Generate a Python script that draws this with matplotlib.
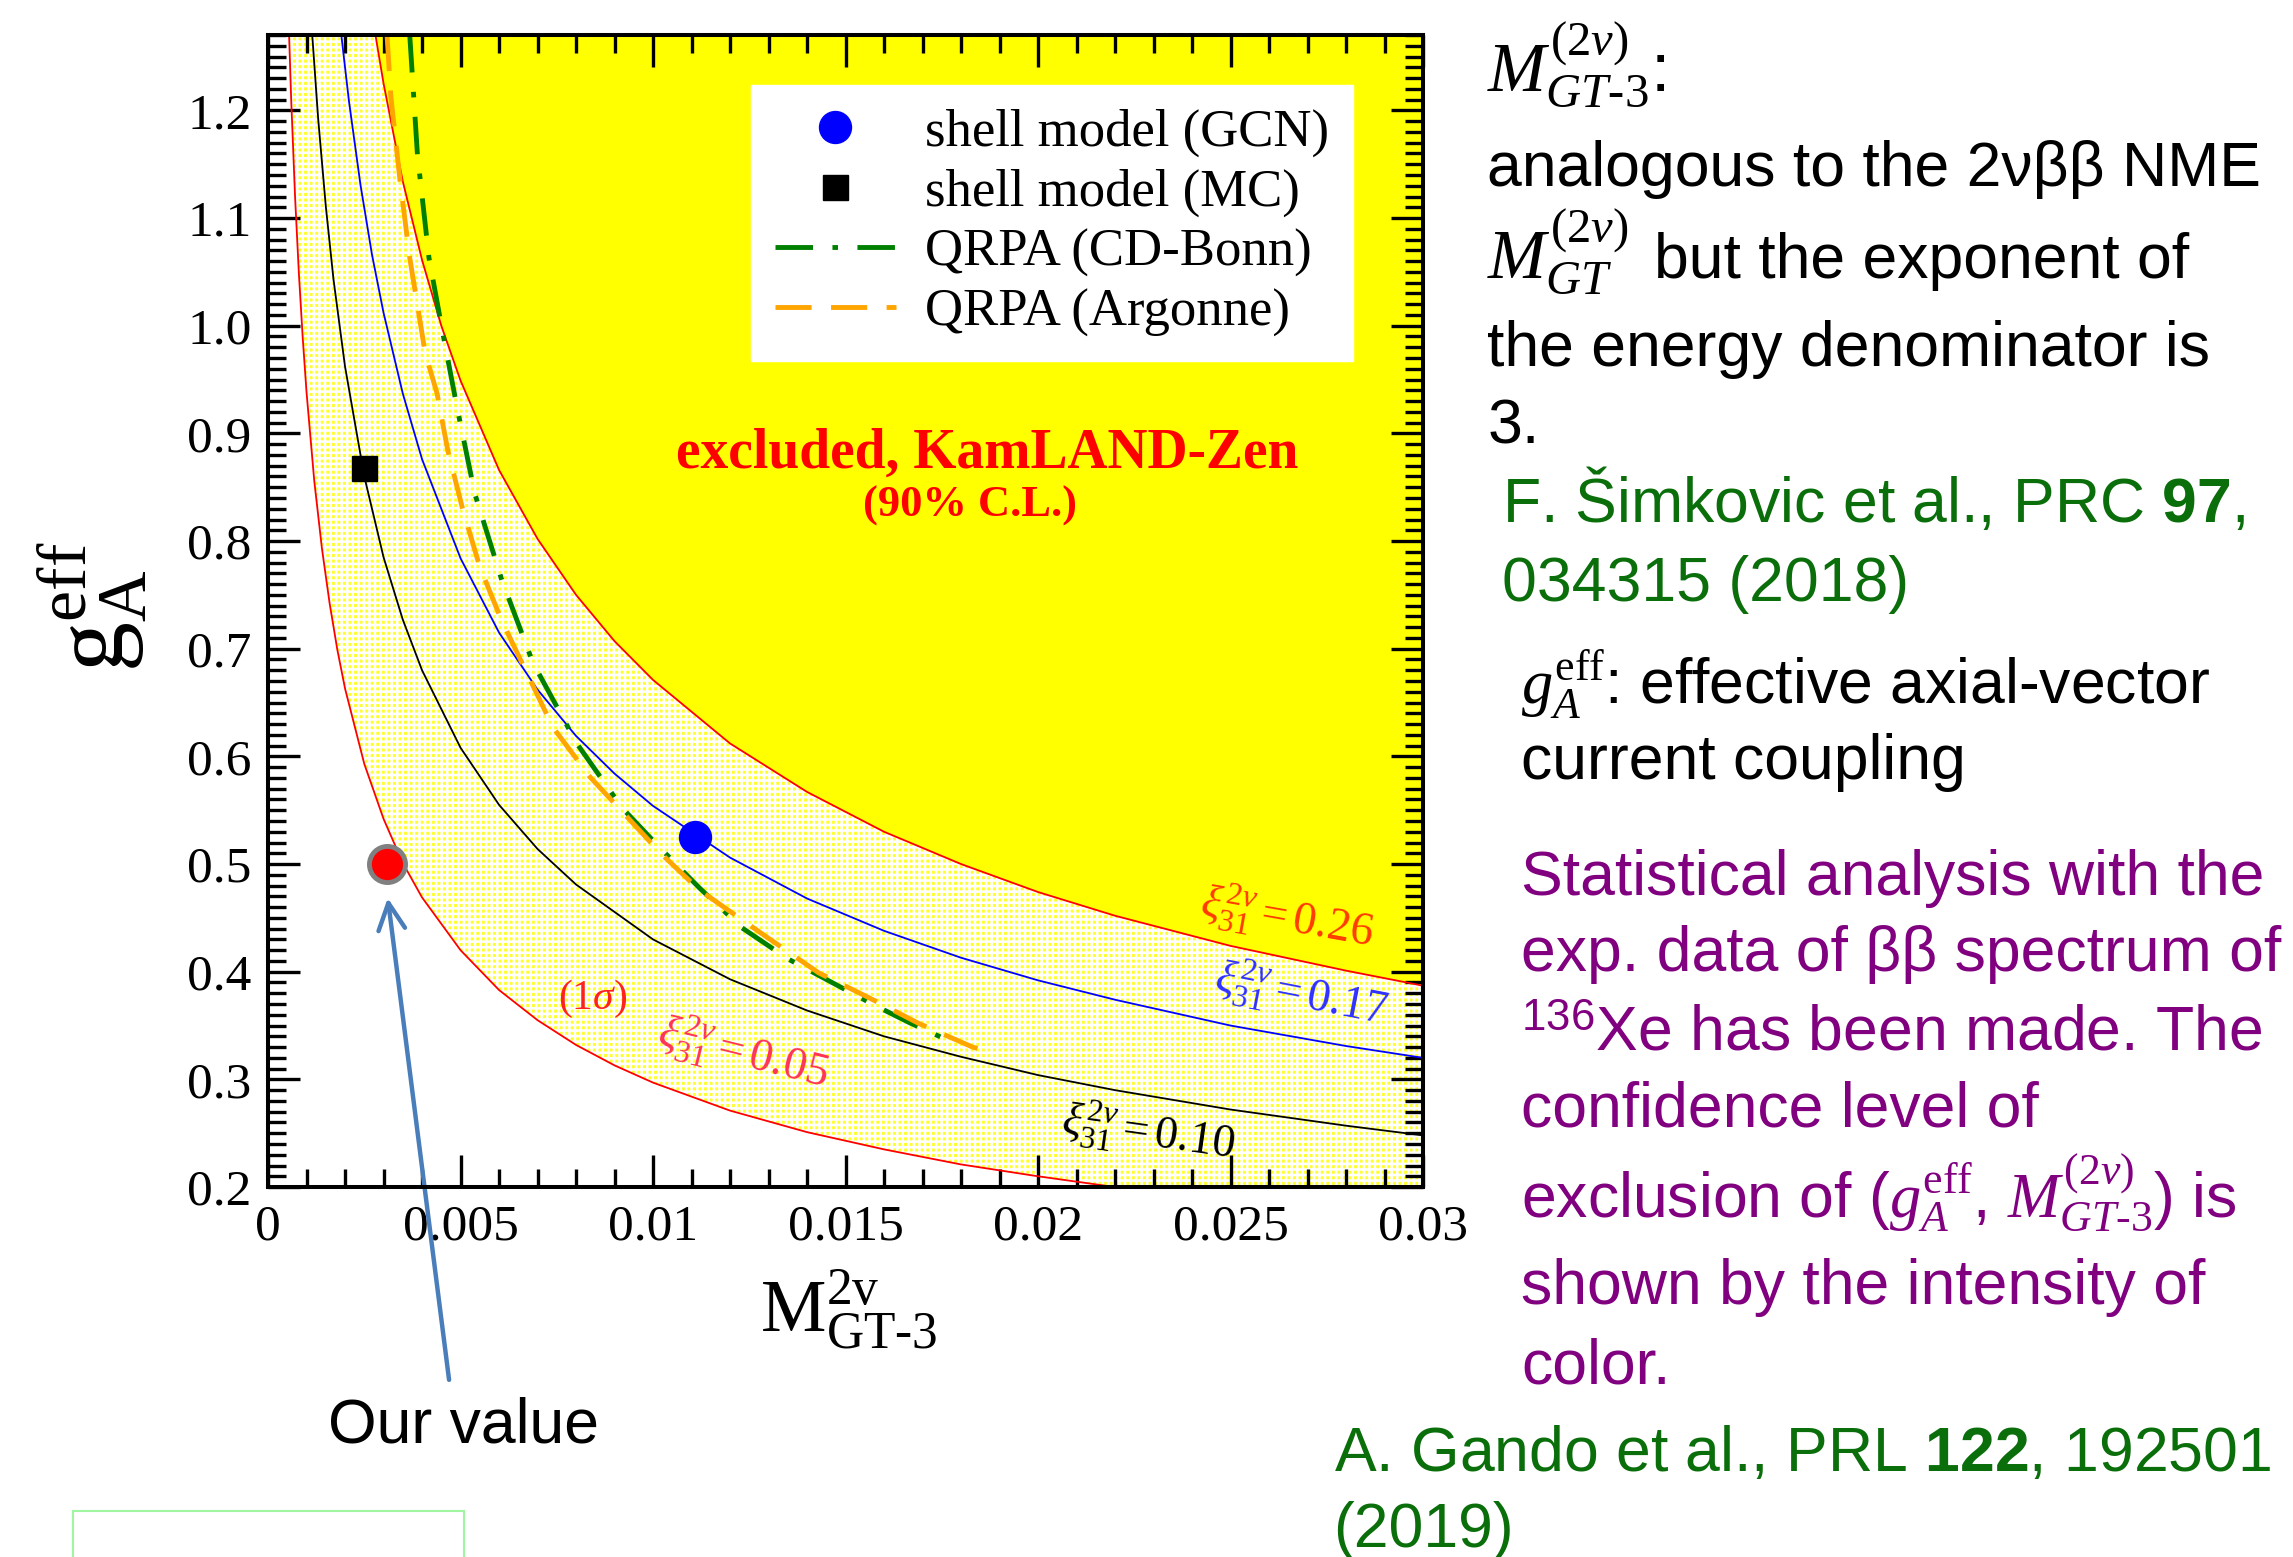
import matplotlib
matplotlib.use("Agg")
import matplotlib.pyplot as plt
from matplotlib.patches import Polygon, Rectangle
from matplotlib.ticker import FixedLocator, FixedFormatter, MultipleLocator

plt.rcParams['mathtext.fontset'] = 'custom'
plt.rcParams['mathtext.rm'] = 'Liberation Serif'
plt.rcParams['mathtext.it'] = 'Liberation Serif:italic'
plt.rcParams['mathtext.bf'] = 'Liberation Sans:bold'
plt.rcParams['mathtext.sf'] = 'Liberation Sans'
plt.rcParams['mathtext.fallback'] = 'stix'
plt.rcParams['lines.scale_dashes'] = False
plt.rcParams['hatch.linewidth'] = 1.8

# constant-xi curves: M_GT-3 vs g_A^eff
M_XI005 = [0.00054, 0.0006, 0.0007, 0.0008, 0.0009, 0.001, 0.0012, 0.0014, 0.0016, 0.0018, 0.002,
           0.0025, 0.003, 0.0035, 0.004, 0.005, 0.006, 0.007, 0.008, 0.009, 0.010, 0.012, 0.014,
           0.016, 0.018, 0.020, 0.022]
G_XI005 = [1.277, 1.211, 1.121, 1.049, 0.989, 0.938, 0.856, 0.793, 0.742, 0.699, 0.663,
           0.593, 0.542, 0.501, 0.469, 0.420, 0.383, 0.355, 0.332, 0.313, 0.297, 0.271, 0.251,
           0.235, 0.221, 0.210, 0.200]

M_XI010 = [0.00114, 0.0013, 0.0015, 0.0017, 0.002, 0.0025, 0.003, 0.0035, 0.004, 0.005, 0.006,
           0.007, 0.008, 0.010, 0.012, 0.014, 0.016, 0.018, 0.020, 0.022, 0.025, 0.028, 0.030]
G_XI010 = [1.274, 1.193, 1.111, 1.043, 0.962, 0.860, 0.785, 0.727, 0.680, 0.608, 0.555,
           0.514, 0.481, 0.430, 0.393, 0.364, 0.340, 0.321, 0.304, 0.290, 0.272, 0.257, 0.248]

M_XI017 = [0.00189, 0.0021, 0.0024, 0.0027, 0.003, 0.0035, 0.004, 0.005, 0.006, 0.007, 0.008,
           0.009, 0.010, 0.012, 0.014, 0.016, 0.018, 0.020, 0.022, 0.025, 0.028, 0.030]
G_XI017 = [1.274, 1.209, 1.131, 1.066, 1.012, 0.937, 0.876, 0.784, 0.715, 0.662, 0.619,
           0.584, 0.554, 0.506, 0.468, 0.438, 0.413, 0.392, 0.374, 0.350, 0.331, 0.320]

M_XI026 = [0.00278, 0.003, 0.0035, 0.004, 0.0045, 0.005, 0.006, 0.007, 0.008, 0.009, 0.010,
           0.012, 0.014, 0.016, 0.018, 0.020, 0.022, 0.025, 0.028, 0.030]
G_XI026 = [1.272, 1.225, 1.134, 1.061, 1.000, 0.949, 0.866, 0.802, 0.750, 0.707, 0.671,
           0.612, 0.567, 0.530, 0.500, 0.474, 0.452, 0.424, 0.401, 0.387]

# QRPA curves
M_CDBONN = [0.00368, 0.00388, 0.00418, 0.00454, 0.00491, 0.00537, 0.00607, 0.00688, 0.00802,
            0.00920, 0.0101, 0.0112, 0.0123, 0.0135, 0.0147, 0.0158, 0.0167, 0.0178]
G_CDBONN = [1.27, 1.159, 1.063, 0.993, 0.924, 0.844, 0.764, 0.687, 0.612,
            0.552, 0.518, 0.478, 0.441, 0.412, 0.389, 0.368, 0.352, 0.334]

M_ARGONNE = [0.00309, 0.00319, 0.00343, 0.00368, 0.00408, 0.00439, 0.00467, 0.00506, 0.00550,
             0.00607, 0.00740, 0.00836, 0.00932, 0.0102, 0.0112, 0.0128, 0.0143, 0.0156,
             0.0169, 0.0183, 0.0188]
G_ARGONNE = [1.27, 1.213, 1.134, 1.063, 0.975, 0.937, 0.884, 0.829, 0.776,
             0.726, 0.627, 0.581, 0.544, 0.510, 0.476, 0.436, 0.399, 0.376,
             0.352, 0.330, 0.325]

# single points
GCN_POINT = (0.0111, 0.525)
MC_POINT = (0.0025, 0.868)
OUR_POINT = (0.0031, 0.50)

XTICKS = [0.0, 0.005, 0.01, 0.015, 0.02, 0.025, 0.03]
XTICK_LABELS = ['0', '0.005', '0.01', '0.015', '0.02', '0.025', '0.03']
YTICKS = [0.2, 0.3, 0.4, 0.5, 0.6, 0.7, 0.8, 0.9, 1.0, 1.1, 1.2]
YTICK_LABELS = ['0.2', '0.3', '0.4', '0.5', '0.6', '0.7', '0.8', '0.9', '1.0', '1.1', '1.2']

X_MIN, X_MAX = 0.0, 0.03
Y_MIN, Y_MAX = 0.2, 1.27

SERIF = 'Liberation Serif'
SANS = 'Liberation Sans'
GREEN_TXT = '#0a6e0a'
PURPLE_TXT = '#800080'

fig = plt.figure(figsize=(22.93, 15.57), dpi=100)
ax = fig.add_axes([0.1169, 0.2376, 0.5037, 0.7399])
ax.set_xlim(X_MIN, X_MAX)
ax.set_ylim(Y_MIN, Y_MAX)

# allowed band (1 sigma) between xi=0.05 and xi=0.26, dotted yellow
band = list(zip(M_XI005, G_XI005)) + [(X_MAX, Y_MIN), (X_MAX, Y_MAX), (M_XI005[0], Y_MAX)]
ax.add_patch(Polygon(band, closed=True, facecolor='#ffff30', edgecolor='white',
                     hatch='+++', linewidth=0, zorder=0.5))
# excluded region
excl = list(zip(M_XI026, G_XI026)) + [(X_MAX, Y_MAX)]
ax.add_patch(Polygon(excl, closed=True, facecolor='#ffff00', edgecolor='none', zorder=0.6))

ax.plot(M_XI005, G_XI005, color='#ff0000', lw=1.3, zorder=2)
ax.plot(M_XI010, G_XI010, color='black', lw=1.3, zorder=2)
ax.plot(M_XI017, G_XI017, color='#0000ff', lw=1.3, zorder=2)
ax.plot(M_XI026, G_XI026, color='#ff0000', lw=1.3, zorder=2)

ax.plot(*GCN_POINT, 'o', color='#0000ff', ms=23, zorder=4, label='shell model (GCN)')
ax.plot(*MC_POINT, 's', color='black', ms=18, zorder=4, label='shell model (MC)')
ax.plot(M_CDBONN, G_CDBONN, color='#008000', lw=3.5, dashes=(27, 14, 4, 14), zorder=3,
        label='QRPA (CD-Bonn)')
ax.plot(M_ARGONNE, G_ARGONNE, color='#ffa500', lw=3.5, dashes=(26, 14), zorder=3,
        label='QRPA (Argonne)')
ax.plot(*OUR_POINT, 'o', color='#ff0000', mec='#808080', mew=3.5, ms=26, zorder=5)

leg = ax.legend(loc='upper right', bbox_to_anchor=(0.9394, 0.9566), borderaxespad=0,
                frameon=True, fancybox=False, framealpha=1, edgecolor='white',
                prop={'family': SERIF, 'size': 38}, handlelength=2.3, handletextpad=0.55,
                labelspacing=0.22, borderpad=0.45, numpoints=1)
leg.set_zorder(6)

# axes styling
ax.xaxis.set_major_locator(FixedLocator(XTICKS))
ax.xaxis.set_major_formatter(FixedFormatter(XTICK_LABELS))
ax.yaxis.set_major_locator(FixedLocator(YTICKS))
ax.yaxis.set_major_formatter(FixedFormatter(YTICK_LABELS))
ax.xaxis.set_minor_locator(MultipleLocator(0.001))
ax.yaxis.set_minor_locator(MultipleLocator(0.01))
ax.tick_params(which='both', direction='in', top=True, right=True, width=2.4, colors='black')
ax.tick_params(which='major', length=23, labelsize=37, pad=12)
ax.tick_params(which='minor', length=13)
for lab in ax.get_xticklabels() + ax.get_yticklabels():
    lab.set_fontfamily(SERIF)
for sp in ax.spines.values():
    sp.set_linewidth(2.9)
    sp.set_zorder(7)

# labels inside the plot
ax.text(0.01869, 0.8815, 'excluded, KamLAND-Zen', color='#ff0000', fontsize=40,
        fontweight='bold', family=SERIF, ha='center', va='center', zorder=5)
ax.text(0.01822, 0.833, '(90% C.L.)', color='#ff0000', fontsize=32,
        fontweight='bold', family=SERIF, ha='center', va='center', zorder=5)
ax.text(0.02645, 0.450, r'$\xi^{2v}_{31}=\mathit{0.26}$', color='#ff3a00', fontsize=33,
        ha='center', va='center', rotation=-10, zorder=5)
ax.text(0.02682, 0.379, r'$\xi^{2v}_{31}=\mathit{0.17}$', color='#3030ff', fontsize=33,
        ha='center', va='center', rotation=-11, zorder=5)
ax.text(0.02285, 0.250, r'$\xi^{2v}_{31}=\mathit{0.10}$', color='black', fontsize=33,
        ha='center', va='center', rotation=-8, zorder=5)
ax.text(0.01233, 0.324, r'$\xi^{2v}_{31}=\mathit{0.05}$', color='#ff3355', fontsize=33,
        ha='center', va='center', rotation=-14, zorder=5)
ax.text(0.00842, 0.375, r'(1$\sigma$)', color='#ff2020', fontsize=30, family=SERIF,
        ha='center', va='center', zorder=5)

# axis titles
fig.text(0.370, 0.159, r'$\mathrm{M}^{\mathrm{2v}}_{\mathrm{GT}\text{-}\mathrm{3}}$',
         fontsize=53, ha='center', va='center')
fig.text(0.0405, 0.610, r'$\mathrm{g}_{\mathrm{A}}^{\mathrm{eff}}$', fontsize=72,
         ha='center', va='center', rotation=90)

# arrow to our value
ax.annotate('', xy=(0.0031, 0.471), xycoords='data', xytext=(0.196, 0.112),
            textcoords='figure fraction', annotation_clip=False,
            arrowprops=dict(arrowstyle='->', color='#4a7ebb', lw=3.2, mutation_scale=48))
fig.text(0.202, 0.084, 'Our value', fontsize=45, family=SANS, ha='center', va='center')
fig.patches.append(Rectangle((0.0318, -0.02), 0.1706, 0.0496, transform=fig.transFigure,
                             fill=False, edgecolor='#a0f5a0', lw=1.5))

# explanatory text on the right
fs = 45
fig.text(0.6486, 0.9418, r'$M^{(2\nu)}_{GT\text{-}3}$:', fontsize=50, family=SANS, va='baseline')
fig.text(0.6486, 0.8807, 'analogous to the 2νββ NME', fontsize=fs, family=SANS, va='baseline')
fig.text(0.6486, 0.8215, r'$M^{(2\nu)}_{GT}$', fontsize=50, family=SANS, va='baseline')
fig.text(0.7215, 0.8215, 'but the exponent of', fontsize=fs, family=SANS, va='baseline')
fig.text(0.6486, 0.7652, 'the energy denominator is', fontsize=fs, family=SANS, va='baseline')
fig.text(0.6486, 0.7154, '3.', fontsize=fs, family=SANS, va='baseline')
fig.text(0.655, 0.6647, r'F. Šimkovic et al., PRC $\mathbf{97}$,', fontsize=fs, family=SANS,
         color=GREEN_TXT, va='baseline')
fig.text(0.655, 0.6140, '034315 (2018)', fontsize=fs, family=SANS, color=GREEN_TXT,
         va='baseline')
fig.text(0.6633, 0.5473, r'$g_A^{\mathrm{eff}}$: effective axial-vector', fontsize=fs,
         family=SANS, va='baseline')
fig.text(0.6633, 0.4994, 'current coupling', fontsize=fs, family=SANS, va='baseline')

purple_lines = [
    (0.4252, 'Statistical analysis with the'),
    (0.3764, 'exp. data of ββ spectrum of'),
    (0.3256, r'${}^{\mathsf{136}}$Xe has been made. The'),
    (0.2768, 'confidence level of'),
    (0.2186, r'exclusion of ($g_A^{\mathrm{eff}}$, $M^{(2\nu)}_{GT\text{-}3}$) is'),
    (0.1622, 'shown by the intensity of'),
    (0.1115, 'color.'),
]
for y, line in purple_lines:
    fig.text(0.6633, y, line, fontsize=fs, family=SANS, color=PURPLE_TXT, va='baseline')

fig.text(0.5816, 0.0551, r'A. Gando et al., PRL $\mathbf{122}$, 192501', fontsize=fs,
         family=SANS, color=GREEN_TXT, va='baseline')
fig.text(0.5816, 0.0063, '(2019)', fontsize=fs, family=SANS, color=GREEN_TXT, va='baseline')

fig.savefig('out.png', dpi=100)
